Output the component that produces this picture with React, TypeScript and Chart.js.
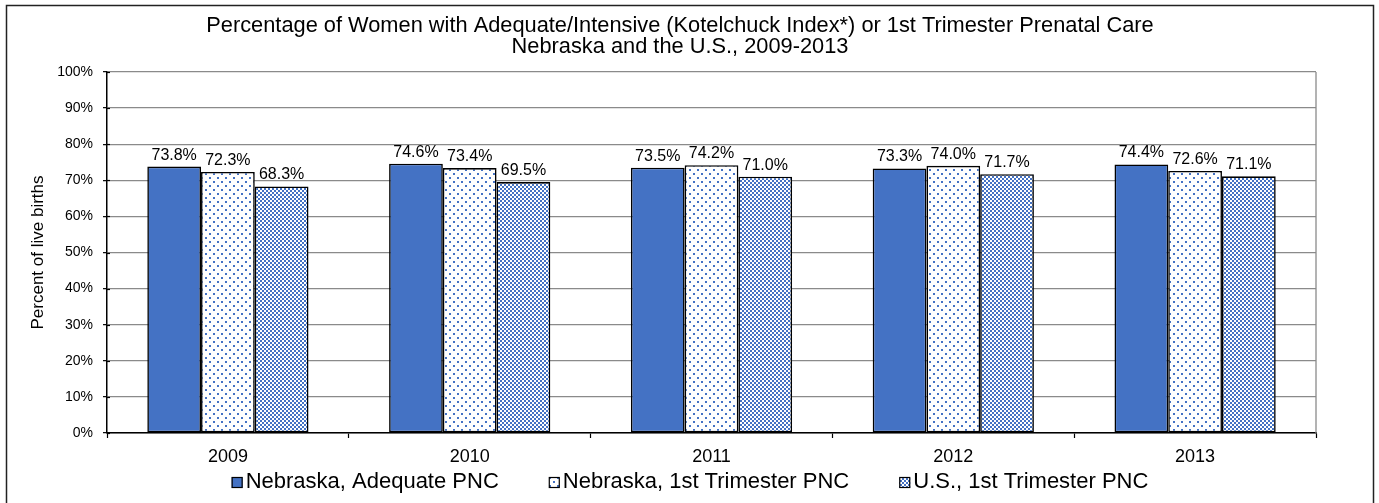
import React, { useEffect, useRef } from 'react';
import { Chart, registerables } from 'chart.js';

Chart.register(...registerables);

const categories = ['2009', '2010', '2011', '2012', '2013'];
const seriesNames = ['Nebraska, Adequate PNC', 'Nebraska, 1st Trimester PNC', 'U.S., 1st Trimester PNC'];
const nebraskaAdequate = [73.8, 74.6, 73.5, 73.3, 74.4];
const nebraskaFirstTri = [72.3, 73.4, 74.2, 74.0, 72.6];
const usFirstTri = [68.3, 69.5, 71.0, 71.7, 71.1];
const yTickValues = [0, 10, 20, 30, 40, 50, 60, 70, 80, 90, 100];
const titleLines = [
  'Percentage of Women with Adequate/Intensive (Kotelchuck Index*) or 1st Trimester Prenatal Care',
  'Nebraska and the U.S., 2009-2013',
];
const yAxisTitle = 'Percent of live births';

const BLUE = '#4472C4';
const FONT = "'Liberation Sans', Arial, sans-serif";
const W = 1379;
const H = 503;

function makeDots(ctx: CanvasRenderingContext2D) {
  const c = document.createElement('canvas');
  c.width = 8;
  c.height = 8;
  const g = c.getContext('2d')!;
  g.fillStyle = '#ffffff';
  g.fillRect(0, 0, 8, 8);
  g.fillStyle = BLUE;
  g.fillRect(1, 1, 2, 2);
  g.fillRect(5, 5, 2, 2);
  return ctx.createPattern(c, 'repeat')!;
}

function makeChecker(ctx: CanvasRenderingContext2D) {
  const c = document.createElement('canvas');
  c.width = 4;
  c.height = 4;
  const g = c.getContext('2d')!;
  g.fillStyle = '#ffffff';
  g.fillRect(0, 0, 4, 4);
  g.fillStyle = BLUE;
  g.fillRect(0, 0, 2, 2);
  g.fillRect(2, 2, 2, 2);
  return ctx.createPattern(c, 'repeat')!;
}

export default function App() {
  const ref = useRef<HTMLCanvasElement | null>(null);

  useEffect(() => {
    const canvas = ref.current!;
    const ctx = canvas.getContext('2d')!;
    const fills: any[] = [BLUE, makeDots(ctx), makeChecker(ctx)];
    const seriesData = [nebraskaAdequate, nebraskaFirstTri, usFirstTri];

    const decor = {
      id: 'decor',
      beforeDraw(chart: any) {
        const c = chart.ctx;
        c.save();
        c.fillStyle = '#ffffff';
        c.fillRect(0, 0, W, H);
        c.strokeStyle = '#222';
        c.lineWidth = 1.5;
        c.strokeRect(6.5, 5.5, 1367, 600);
        c.restore();
      },
      afterDatasetsDraw(chart: any) {
        const c = chart.ctx;
        c.save();
        c.font = `16px ${FONT}`;
        c.fillStyle = '#000';
        c.textAlign = 'center';
        c.textBaseline = 'alphabetic';
        chart.data.datasets.forEach((ds: any, i: number) => {
          const meta = chart.getDatasetMeta(i);
          meta.data.forEach((bar: any, j: number) => {
            const v = ds.data[j];
            c.fillText(v.toFixed(1) + '%', bar.x, bar.y - 7);
          });
        });
        c.restore();
      },
      afterDraw(chart: any) {
        const c = chart.ctx;
        const a = chart.chartArea;
        const ys = chart.scales.y;
        c.save();
        c.strokeStyle = '#8a8a8a';
        c.lineWidth = 1.3;
        c.beginPath();
        c.moveTo(a.right, a.top);
        c.lineTo(a.right, a.bottom);
        c.stroke();
        c.strokeStyle = '#000';
        c.lineWidth = 1.2;
        yTickValues.forEach((v) => {
          const y = Math.round(ys.getPixelForValue(v)) + 0.5;
          c.beginPath();
          c.moveTo(a.left, y);
          c.lineTo(a.left + 3, y);
          c.stroke();
        });
        c.fillStyle = '#000';
        c.textAlign = 'center';
        c.textBaseline = 'alphabetic';
        c.font = `21.8px ${FONT}`;
        c.fillText(titleLines[0], 680, 32);
        c.fillText(titleLines[1], 680, 53);
        c.save();
        c.translate(38, (a.top + a.bottom) / 2);
        c.rotate(-Math.PI / 2);
        c.font = `17px ${FONT}`;
        c.textBaseline = 'middle';
        c.fillText(yAxisTitle, 0, 0);
        c.restore();
        c.font = `22px ${FONT}`;
        c.textAlign = 'left';
        const box = 11;
        const gapText = 3;
        const gapItem = 50;
        const widths = seriesNames.map((s) => c.measureText(s).width);
        const total = widths.reduce((s, w) => s + w + box + gapText, 0) + gapItem * (seriesNames.length - 1);
        let x = 690 - total / 2;
        const by = 477;
        seriesNames.forEach((name, i) => {
          c.fillStyle = fills[i];
          c.fillRect(x, by, box, box);
          c.strokeStyle = '#000';
          c.lineWidth = 1.2;
          c.strokeRect(x + 0.5, by + 0.5, box - 1, box - 1);
          c.fillStyle = '#000';
          c.fillText(name, x + box + gapText, 488);
          x += box + gapText + widths[i] + gapItem;
        });
        c.restore();
      },
    };

    const chart = new Chart(canvas, {
      type: 'bar',
      data: {
        labels: categories,
        datasets: seriesNames.map((name, i) => ({
          label: name,
          data: seriesData[i],
          backgroundColor: fills[i],
          borderColor: '#000',
          borderWidth: 1.6,
          borderSkipped: false,
          barPercentage: 1,
          categoryPercentage: 0.6667,
        })),
      },
      options: {
        responsive: false,
        animation: false,
        devicePixelRatio: 1,
        layout: { padding: { left: 0, right: 63, top: 72, bottom: 0 } },
        plugins: {
          legend: { display: false },
          title: { display: false },
          tooltip: { enabled: false },
        },
        scales: {
          x: {
            offset: true,
            grid: {
              display: true,
              offset: true,
              drawOnChartArea: false,
              tickLength: 5,
              tickColor: '#000',
              tickWidth: 1.2,
            },
            border: { display: true, color: '#000', width: 1.5 },
            ticks: { color: '#000', font: { family: FONT, size: 18 }, padding: 8 },
            afterFit: (s: any) => {
              s.height = 70;
            },
          },
          y: {
            min: 0,
            max: 100,
            afterBuildTicks: (s: any) => {
              s.ticks = yTickValues.map((v) => ({ value: v }));
            },
            grid: {
              color: '#8a8a8a',
              lineWidth: 1.3,
              tickColor: '#000',
              tickLength: 4,
              tickWidth: 1.2,
            },
            border: { display: true, color: '#000', width: 1.5 },
            ticks: {
              color: '#000',
              font: { family: FONT, size: 14 },
              padding: 10,
              callback: (v: any) => v + '%',
            },
            afterFit: (s: any) => {
              s.width = 107;
            },
          },
        },
      },
      plugins: [decor],
    });

    return () => chart.destroy();
  }, []);

  return (
    <div style={{ position: 'fixed', left: 0, top: 0, width: W, height: H, background: '#fff' }}>
      <canvas ref={ref} width={W} height={H} style={{ display: 'block', width: W, height: H }} />
    </div>
  );
}
